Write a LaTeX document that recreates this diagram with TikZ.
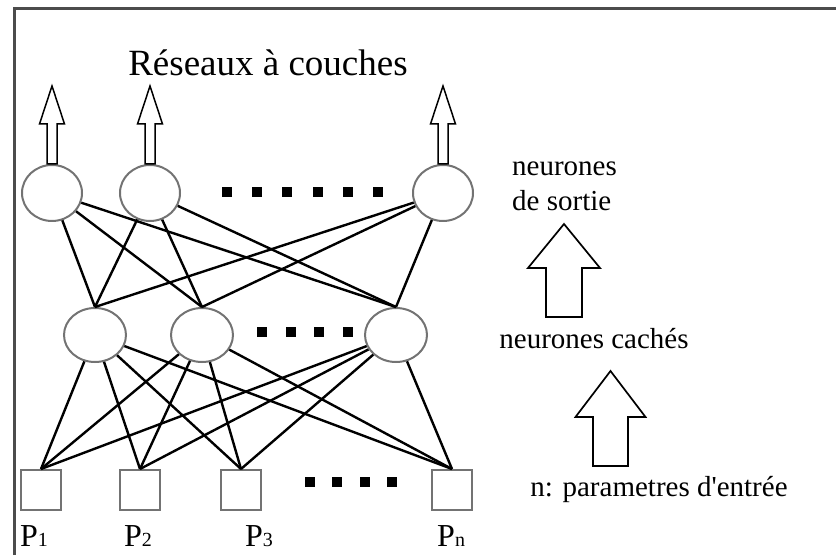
\documentclass[tikz,border=0pt]{standalone}
\usepackage{fontspec}
\setmainfont{Liberation Serif}
\usetikzlibrary{positioning, calc, shapes.geometric}

% hollow block arrow: style, base, shaft half width, head half width, shaft length, head length
\newcommand{\hollowarrow}[6]{%
  \draw[#1] ($(#2)+(-#3,0)$) -- ++(0,#5) -- ++(#3-#4,0) -- ($(#2)+(0,#5+#6)$)
    -- ($(#2)+(#4,#5)$) -- ++(#3-#4,0) -- ($(#2)+(#3,0)$) -- cycle;}
\newcommand{\idx}[1]{{\fontsize{20}{20}\selectfont #1}}

\begin{document}
\begin{tikzpicture}[
    x=1pt, y=1pt,
    neuron/.style={ellipse, draw=black!55, line width=2pt, fill=white, minimum width=60pt, minimum height=56pt, inner sep=0pt},
    hidden/.style={neuron, minimum width=62pt, minimum height=54pt},
    inbox/.style={rectangle, draw=black!55, line width=2pt, fill=white, minimum size=40pt, inner sep=0pt},
    link/.style={line width=2.4pt, draw=black},
    outarrow/.style={draw=black, line width=1.5pt, fill=white},
    flowarrow/.style={draw=black, line width=1.7pt, fill=white},
    dot/.style={rectangle, fill=black, minimum width=10pt, minimum height=10pt, inner sep=0pt},
    sidetext/.style={font=\fontsize{29}{35}\selectfont, inner sep=0pt},
    plabel/.style={font=\fontsize{32}{34}\selectfont, inner sep=0pt, anchor=base west},
    frame/.style={draw=black!70, line width=3pt}
]
\useasboundingbox (0,0) rectangle (836,555);

% Frame
\draw[frame] (14,0) -- (14,546) -- (836,546);

% Title
\node[font=\fontsize{37}{40}\selectfont, inner sep=0pt] (title) at (268,492) {Réseaux à couches};

% Neurons
\node[neuron] (o1) at (52,362) {};
\node[neuron] (o2) at (150,362) {};
\node[neuron] (o3) at (443,362) {};
\node[hidden] (h1) at (95,220) {};
\node[hidden] (h2) at (202,220) {};
\node[hidden] (h3) at (396,220) {};
\node[inbox] (i1) at (41,65) {};
\node[inbox] (i2) at (140,65) {};
\node[inbox] (i3) at (241,65) {};
\node[inbox] (i4) at (452,65) {};

% Connections
\foreach \o in {o1,o2,o3}
  \foreach \h in {h1,h2,h3}
    \draw[link] (\o) -- (\h.north);
\foreach \h in {h1,h2,h3}
  \foreach \p in {i1,i2,i3,i4}
    \draw[link] (\h) -- (\p.north);

% Dots
\foreach \k in {0,...,5}
  \node[dot] (odot\k) at (227+30.2*\k,363) {};
\foreach \k in {0,...,3}
  \node[dot] (hdot\k) at (262+28.7*\k,223) {};
\foreach \k in {0,...,3}
  \node[dot] (idot\k) at (310+27.3*\k,73) {};

% Output arrows
\foreach \o in {o1,o2,o3}{
  \hollowarrow{outarrow}{\o.north}{5}{12.5}{40}{38}
}

% Layer arrows
\coordinate (up1) at (564,238);
\coordinate (up2) at (610.5,89);
\hollowarrow{flowarrow}{up1}{18}{36}{49}{44}
\hollowarrow{flowarrow}{up2}{17.5}{35}{49}{46}

% Labels
\node[sidetext, align=left, anchor=west] (lout) at (512,369) {neurones\\de sortie};
\node[sidetext] (lhid) at (594,216) {neurones cachés};
\node[sidetext] (lin) at (659,65) {n: parametres d\textquotesingle entrée};

\node[plabel] (p1) at (20,9) {P\idx{1}};
\node[plabel] (p2) at (124,9) {P\idx{2}};
\node[plabel] (p3) at (245,9) {P\idx{3}};
\node[plabel] (pn) at (437,9) {P\idx{n}};

\end{tikzpicture}
\end{document}
